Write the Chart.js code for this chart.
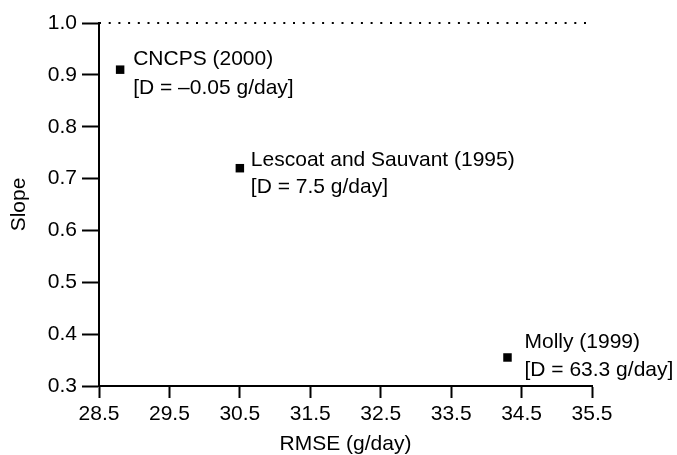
<!DOCTYPE html>
<html>
<head>
<meta charset="utf-8">
<script src="https://cdn.jsdelivr.net/npm/chart.js@4"></script>
<style>
  html, body { margin: 0; padding: 0; background: #fff; }
</style>
</head>
<body>
<canvas id="slopeChart" width="677" height="455"></canvas>
<script>
// Models compared, with their mean bias
const models = ["CNCPS (2000)", "Lescoat and Sauvant (1995)", "Molly (1999)"];
const biasNotes = ["[D = \u20130.05 g/day]", "[D = 7.5 g/day]", "[D = 63.3 g/day]"];

// RMSE (g/day) and regression slope for each model
const rmse = [28.8, 30.5, 34.3];
const slope = [0.91, 0.72, 0.355];

// Axis ticks
const xTicks = [28.5, 29.5, 30.5, 31.5, 32.5, 33.5, 34.5, 35.5];
const yTicks = [0.3, 0.4, 0.5, 0.6, 0.7, 0.8, 0.9, 1.0];

// Ideal slope drawn as a dotted line
const refSlope = 1.0;

// Text placement next to each point: [dx, dy of first baseline, line gap]
const labelNudge = [[13, -5, 29], [11, -2, 27], [17, -9, 28]];

const FONT = { family: "'Liberation Sans', Arial, sans-serif", size: 21 };

const pointLabels = {
  id: "pointLabels",
  afterDatasetsDraw(chart) {
    const ctx = chart.ctx;
    const meta = chart.getDatasetMeta(0);
    ctx.save();
    ctx.fillStyle = "#000";
    ctx.font = `${FONT.size}px ${FONT.family}`;
    ctx.textAlign = "left";
    ctx.textBaseline = "alphabetic";
    meta.data.forEach((pt, i) => {
      const [dx, dy, gap] = labelNudge[i];
      ctx.fillText(models[i], pt.x + dx, pt.y + dy);
      ctx.fillText(biasNotes[i], pt.x + dx, pt.y + dy + gap);
    });
    ctx.restore();
  }
};

const axisStyle = (tickLen) => ({
  type: "linear",
  grid: { drawOnChartArea: false, drawTicks: true, tickLength: tickLen, tickWidth: 2, tickColor: "#000" },
  border: { display: true, color: "#000", width: 2 },
  ticks: { color: "#000", font: FONT, callback: v => Number(v).toFixed(1) },
  title: { display: true, color: "#000", font: FONT }
});

const xAxis = axisStyle(12);
xAxis.min = xTicks[0];
xAxis.max = xTicks[xTicks.length - 1];
xAxis.ticks.padding = 4;
xAxis.title.text = "RMSE (g/day)";
xAxis.title.padding = { top: 4, bottom: -2 };
xAxis.afterBuildTicks = s => { s.ticks = xTicks.map(v => ({ value: v })); };
xAxis.afterFit = s => { s.height = 69; };

const yAxis = axisStyle(17);
yAxis.min = yTicks[0];
yAxis.max = yTicks[yTicks.length - 1];
yAxis.ticks.padding = 5;
yAxis.title.text = "Slope";
yAxis.title.padding = { top: 7, bottom: 4 };
yAxis.afterBuildTicks = s => { s.ticks = yTicks.map(v => ({ value: v })); };
yAxis.afterFit = s => { s.width = 99; };

new Chart(document.getElementById("slopeChart"), {
  type: "scatter",
  data: {
    datasets: [
      {
        data: rmse.map((x, i) => ({ x, y: slope[i] })),
        pointStyle: "rect",
        pointRadius: 6,
        pointHoverRadius: 6,
        backgroundColor: "#000",
        borderColor: "#000",
        borderWidth: 0
      },
      {
        type: "line",
        data: [{ x: xTicks[0], y: refSlope }, { x: xTicks[xTicks.length - 1], y: refSlope }],
        borderColor: "#000",
        borderWidth: 2,
        borderDash: [2, 7.7],
        pointRadius: 0,
        fill: false,
        clip: false
      }
    ]
  },
  options: {
    responsive: false,
    animation: false,
    layout: { padding: { top: 23, right: 85, left: 0, bottom: 0 } },
    plugins: { legend: { display: false }, tooltip: { enabled: false } },
    scales: { x: xAxis, y: yAxis }
  },
  plugins: [pointLabels]
});
</script>
</body>
</html>
